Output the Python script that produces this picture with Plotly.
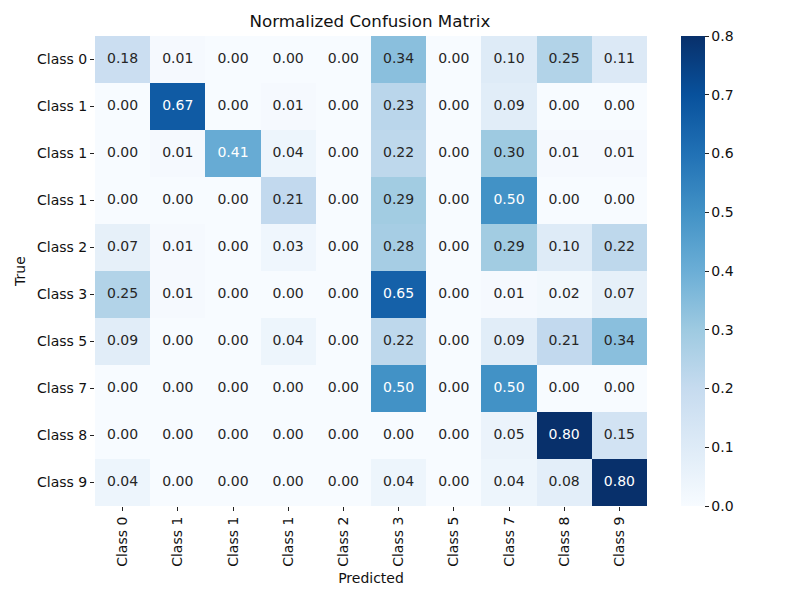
import plotly.graph_objects as go

# labels as shown on the chart (duplicates kept on purpose)
class_labels = ["Class 0", "Class 1", "Class 1", "Class 1", "Class 2",
                "Class 3", "Class 5", "Class 7", "Class 8", "Class 9"]

# normalized confusion matrix, rows = true, cols = predicted
cm = [
    [0.18, 0.01, 0.00, 0.00, 0.00, 0.34, 0.00, 0.10, 0.25, 0.11],
    [0.00, 0.67, 0.00, 0.01, 0.00, 0.23, 0.00, 0.09, 0.00, 0.00],
    [0.00, 0.01, 0.41, 0.04, 0.00, 0.22, 0.00, 0.30, 0.01, 0.01],
    [0.00, 0.00, 0.00, 0.21, 0.00, 0.29, 0.00, 0.50, 0.00, 0.00],
    [0.07, 0.01, 0.00, 0.03, 0.00, 0.28, 0.00, 0.29, 0.10, 0.22],
    [0.25, 0.01, 0.00, 0.00, 0.00, 0.65, 0.00, 0.01, 0.02, 0.07],
    [0.09, 0.00, 0.00, 0.04, 0.00, 0.22, 0.00, 0.09, 0.21, 0.34],
    [0.00, 0.00, 0.00, 0.00, 0.00, 0.50, 0.00, 0.50, 0.00, 0.00],
    [0.00, 0.00, 0.00, 0.00, 0.00, 0.00, 0.00, 0.05, 0.80, 0.15],
    [0.04, 0.00, 0.00, 0.00, 0.00, 0.04, 0.00, 0.04, 0.08, 0.80],
]

colorbar_ticks = [0.0, 0.1, 0.2, 0.3, 0.4, 0.5, 0.6, 0.7, 0.8]

# matplotlib "Blues"
blues = ["#f7fbff", "#deebf7", "#c6dbef", "#9ecae1", "#6baed6",
         "#4292c6", "#2171b5", "#08519c", "#08306b"]
scale = [[i / 8, c] for i, c in enumerate(blues)]

n = len(class_labels)
idx = list(range(n))

# page has an 8px body margin, so the figure is 8px smaller each way
W, H = 792, 592

fig = go.Figure()
fig.add_trace(go.Heatmap(
    z=cm, x=idx, y=idx,
    colorscale=scale, zmin=0, zmax=0.8,
    xgap=0, ygap=0, hoverinfo="skip",
    colorbar=dict(
        x=1.0616, xanchor="left", xref="paper",
        y=0.5, yanchor="middle", len=1, lenmode="fraction",
        thickness=24, outlinewidth=0, xpad=0, ypad=0,
        tickvals=colorbar_ticks, ticktext=[f"{t:.1f}" for t in colorbar_ticks],
        ticks="outside", ticklen=4, tickcolor="#222",
        tickfont=dict(size=14, color="#111"),
    ),
))

# cell annotations
tx, ty, tt, tc = [], [], [], []
for r in range(n):
    for c in range(n):
        v = cm[r][c]
        tx.append(c)
        ty.append(r)
        tt.append(f"{v:.2f}")
        tc.append("white" if v >= 0.4 else "#262626")

fig.add_trace(go.Scatter(
    x=tx, y=ty, text=tt, mode="text",
    textfont=dict(size=14, color=tc, family="DejaVu Sans"),
    hoverinfo="skip", showlegend=False,
))

fig.update_xaxes(
    tickvals=idx, ticktext=class_labels, tickangle=-90,
    range=[-0.5, n - 0.5], showgrid=False, zeroline=False,
    ticks="outside", ticklen=4, tickcolor="#222", automargin=False,
    tickfont=dict(size=14, color="#111"),
    title=dict(text="Predicted", font=dict(size=14, color="#111"), standoff=7),
)
fig.update_yaxes(
    tickvals=idx, ticktext=class_labels,
    range=[n - 0.5, -0.5], showgrid=False, zeroline=False,
    ticks="outside", ticklen=4, tickcolor="#222", automargin=False,
    tickfont=dict(size=14, color="#111"),
    title=dict(text="True", font=dict(size=14, color="#111"), standoff=8),
)

fig.update_layout(
    width=W, height=H,
    margin=dict(l=87, r=153, t=28, b=94, autoexpand=False),
    paper_bgcolor="white", plot_bgcolor="white",
    font=dict(family="DejaVu Sans", color="#111"),
    title=dict(text="Normalized Confusion Matrix", x=0.457, xanchor="center",
               y=1 - 13 / H, yanchor="middle",
               font=dict(size=16.7, color="#111")),
)

fig.write_html("out.html")
